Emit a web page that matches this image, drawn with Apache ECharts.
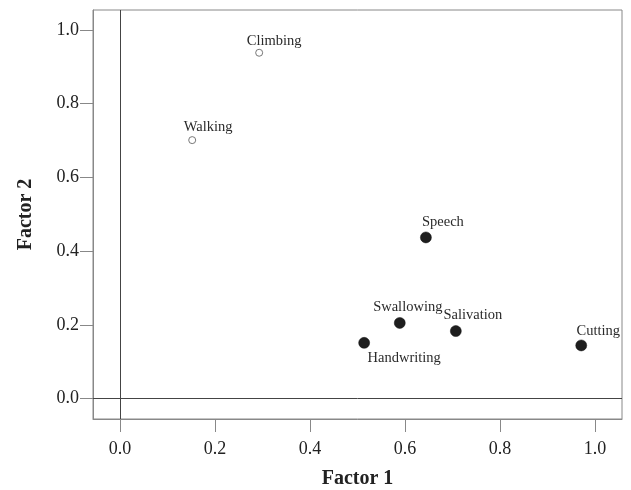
<!DOCTYPE html>
<html>
<head>
<meta charset="utf-8">
<script src="https://cdn.jsdelivr.net/npm/echarts@6/dist/echarts.min.js"></script>
<style>html,body{margin:0;padding:0;background:#fff}#c{width:631px;height:490px}</style>
</head>
<body>
<div id="c"></div>
<script>
// Data
var names = ['Climbing', 'Walking', 'Speech', 'Swallowing', 'Salivation', 'Handwriting', 'Cutting'];
var factor1 = [0.293, 0.152, 0.644, 0.589, 0.707, 0.514, 0.971];
var factor2 = [0.938, 0.701, 0.437, 0.205, 0.183, 0.151, 0.144];
var group = ['open', 'open', 'filled', 'filled', 'filled', 'filled', 'filled'];
var xTicks = [0.0, 0.2, 0.4, 0.6, 0.8, 1.0];
var yTicks = [0.0, 0.2, 0.4, 0.6, 0.8, 1.0];

// Label placement (style)
var labelOffset = {
  Climbing: [15, -12], Walking: [16, -13], Speech: [17, -15],
  Swallowing: [8, -16], Salivation: [17, -16], Handwriting: [40, 15], Cutting: [17, -14]
};

var FONT = '"Liberation Serif", "DejaVu Serif", serif';

function build(kind) {
  var out = [];
  for (var i = 0; i < names.length; i++) {
    if (group[i] !== kind) continue;
    out.push({
      name: names[i],
      value: [factor1[i], factor2[i]],
      label: { offset: labelOffset[names[i]] }
    });
  }
  return out;
}

var labelStyle = {
  show: true, position: 'inside', formatter: '{b}',
  fontFamily: FONT, fontSize: 14.5, color: '#2a2a2a'
};

var chart = echarts.init(document.getElementById('c'), null, { renderer: 'canvas' });
chart.setOption({
  animation: false,
  backgroundColor: '#fff',
  grid: { left: 93, right: 9, top: 10, bottom: 71, outerBoundsMode: 'none', containLabel: false,
    show: true, borderColor: '#888', borderWidth: 1, backgroundColor: 'transparent' },
  xAxis: {
    type: 'value', min: -0.0568, max: 1.0568,
    name: 'Factor 1', nameLocation: 'middle', nameGap: 50,
    nameTextStyle: { fontFamily: FONT, fontSize: 20, fontWeight: 'bold', color: '#222' },
    axisLine: { show: true, onZero: false, lineStyle: { color: '#888' } },
    axisTick: { show: true, inside: false, length: 13, customValues: xTicks, lineStyle: { color: '#888' } },
    axisLabel: { customValues: xTicks, fontFamily: FONT, fontSize: 18, color: '#222', margin: 21,
      formatter: function (v) { return v.toFixed(1); } },
    splitLine: { show: false }
  },
  yAxis: {
    type: 'value', min: -0.0556, max: 1.054,
    name: 'Factor 2', nameLocation: 'middle', nameGap: 57,
    nameTextStyle: { fontFamily: FONT, fontSize: 20, fontWeight: 'bold', color: '#222' },
    axisLine: { show: true, onZero: false, lineStyle: { color: '#888' } },
    axisTick: { show: true, inside: false, length: 13, customValues: yTicks, lineStyle: { color: '#888' } },
    axisLabel: { customValues: yTicks, fontFamily: FONT, fontSize: 18, color: '#222', margin: 14,
      formatter: function (v) { return v.toFixed(1); } },
    splitLine: { show: false }
  },
  series: [
    {
      type: 'scatter', symbol: 'circle', symbolSize: 7,
      itemStyle: { color: '#fff', borderColor: '#777', borderWidth: 1, opacity: 1 },
      label: labelStyle,
      data: build('open'),
      markLine: {
        silent: true, symbol: 'none', label: { show: false },
        lineStyle: { color: '#444', width: 1, type: 'solid' },
        data: [{ xAxis: 0 }, { yAxis: 0 }]
      }
    },
    {
      type: 'scatter', symbol: 'circle', symbolSize: 11,
      itemStyle: { color: '#1e1e1e', borderColor: '#111', borderWidth: 0.5, opacity: 1 },
      label: labelStyle,
      data: build('filled')
    }
  ]
});
</script>
</body>
</html>
